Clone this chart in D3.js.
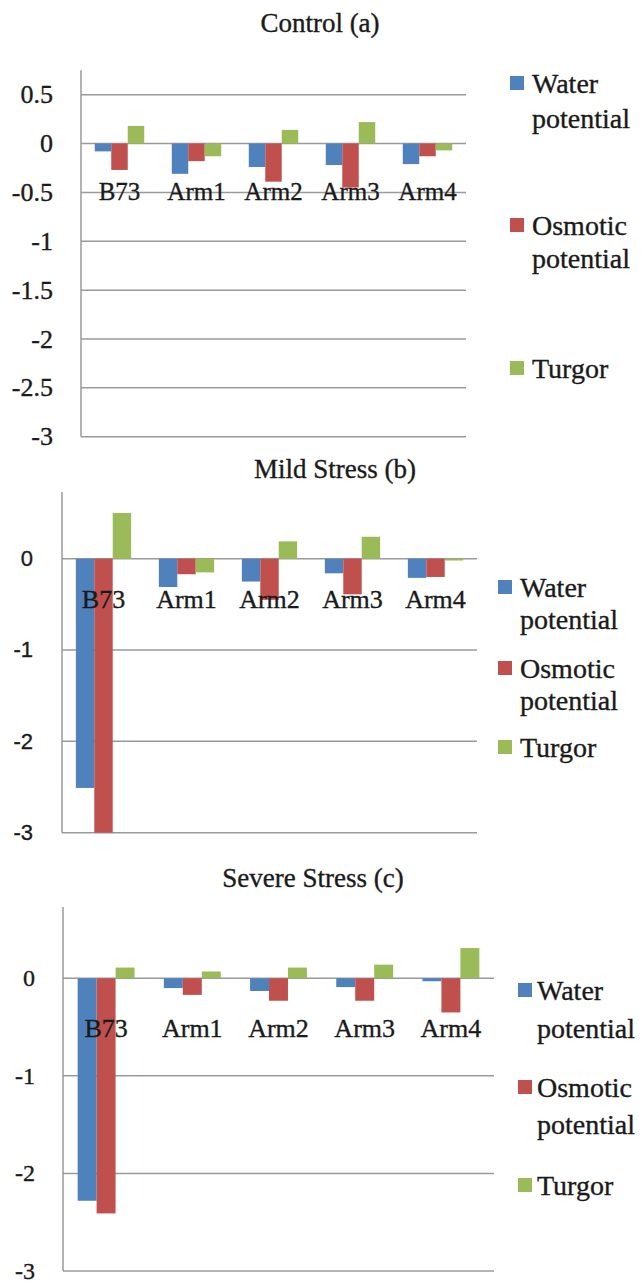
<!DOCTYPE html>
<html><head><meta charset="utf-8">
<script src="https://cdn.jsdelivr.net/npm/d3@7"></script>
<style>body{margin:0;background:#fff}svg{display:block}
.serif{font-family:"Liberation Serif","Times New Roman","DejaVu Serif",serif}
.sans{font-family:"Liberation Sans",Arial,sans-serif}
text{fill:#1a1a1a;stroke:#1a1a1a;stroke-width:0.35px}</style>
</head><body>
<svg id="c" width="643" height="1284"></svg>
<script>
// ---- data ----
const categories = ["B73", "Arm1", "Arm2", "Arm3", "Arm4"];
const seriesNames = ["Water potential", "Osmotic potential", "Turgor"];
const controlWater    = [-0.08, -0.31, -0.24, -0.22, -0.21];
const controlOsmotic  = [-0.27, -0.18, -0.39, -0.45, -0.13];
const controlTurgor   = [0.18, -0.13, 0.14, 0.22, -0.07];
const mildWater       = [-2.51, -0.31, -0.25, -0.16, -0.21];
const mildOsmotic     = [-3.0, -0.17, -0.45, -0.39, -0.20];
const mildTurgor      = [0.50, -0.15, 0.19, 0.24, -0.02];
const severeWater     = [-2.28, -0.10, -0.13, -0.09, -0.03];
const severeOsmotic   = [-2.41, -0.17, -0.23, -0.23, -0.35];
const severeTurgor    = [0.11, 0.07, 0.11, 0.14, 0.31];
const ticksA = [0.5, 0, -0.5, -1, -1.5, -2, -2.5, -3];
const tickLabelsA = ["0.5", "0", "-0.5", "-1", "-1.5", "-2", "-2.5", "-3"];
const ticksBC = [0, -1, -2, -3];
const tickLabelsBC = ["0", "-1", "-2", "-3"];
const titles = ["Control (a)", "Mild Stress (b)", "Severe Stress (c)"];

const colors = ["#4F81BD", "#C0504D", "#9BBB59"];

const panels = [
  { title: titles[0], series: [controlWater, controlOsmotic, controlTurgor],
    ticks: ticksA, tickLabels: tickLabelsA, dom: [-3, 0.5], rng: [436.7, 94.7], axisTop: 0.75,
    x0: 81, x1: 466, barFrac: 0.214, tickFont: "serif", tickSize: 26, tickX: 53,
    catSize: 25, catY: 200, titleX: 320, titleY: 32, titleSize: 27,
    leg: { sqX: 510, txtX: 532, size: 28, lines: [[93, 128], [235, 268], [378]] } },
  { title: titles[1], series: [mildWater, mildOsmotic, mildTurgor],
    ticks: ticksBC, tickLabels: tickLabelsBC, dom: [-3, 0], rng: [832.7, 558.7], axisTop: 0.73,
    x0: 62, x1: 477, barFrac: 0.222, tickFont: "sans", tickSize: 22, tickX: 33,
    catSize: 26, catY: 608, titleX: 335, titleY: 478, titleSize: 27,
    leg: { sqX: 498, txtX: 520, size: 28, lines: [[597, 629], [678, 710], [757]] } },
  { title: titles[2], series: [severeWater, severeOsmotic, severeTurgor],
    ticks: ticksBC, tickLabels: tickLabelsBC, dom: [-3, 0], rng: [1271, 978.3], axisTop: 0.73,
    x0: 63, x1: 494, barFrac: 0.22, tickFont: "serif", tickSize: 24, tickX: 35,
    catSize: 26, catY: 1037, titleX: 313, titleY: 887, titleSize: 27,
    leg: { sqX: 518, txtX: 537, size: 28, lines: [[1000, 1038], [1097, 1134], [1195]] } }
];

const svg = d3.select("#c");
const legendLines = [["Water", "potential"], ["Osmotic", "potential"], ["Turgor"]];

panels.forEach(p => {
  const g = svg.append("g");
  const y = d3.scaleLinear().domain(p.dom).range(p.rng);
  const x = d3.scaleBand().domain(categories).range([p.x0, p.x1]).paddingInner(0).paddingOuter(0);
  const bw = x.step() * p.barFrac;

  g.append("text").attr("class", "serif").attr("x", p.titleX).attr("y", p.titleY).attr("text-anchor", "middle")
    .style("font-size", p.titleSize + "px").text(p.title);

  g.selectAll(".grid").data(p.ticks).enter().append("line")
    .attr("x1", p.x0).attr("x2", p.x1).attr("y1", d => y(d)).attr("y2", d => y(d))
    .attr("stroke", "#9a9a9a").attr("stroke-width", 1.5);
  g.append("line").attr("x1", p.x0).attr("x2", p.x0).attr("y1", y(p.axisTop)).attr("y2", y(p.dom[0]))
    .attr("stroke", "#9a9a9a").attr("stroke-width", 1.5);
  g.selectAll(".tl").data(p.ticks).enter().append("text").attr("class", p.tickFont)
    .attr("x", p.tickX).attr("y", d => y(d)).attr("dy", "0.33em").attr("text-anchor", "end")
    .style("font-size", p.tickSize + "px")
    .text((d, i) => p.tickLabels[i]);

  p.series.forEach((vals, si) => {
    g.selectAll(".b" + si).data(categories).enter().append("rect")
      .attr("x", c => x(c) + x.bandwidth() / 2 - 1.5 * bw + si * bw)
      .attr("width", bw)
      .attr("y", (c, i) => y(Math.max(0, vals[i])))
      .attr("height", (c, i) => Math.abs(y(vals[i]) - y(0)))
      .attr("fill", colors[si]);
  });

  g.selectAll(".cl").data(categories).enter().append("text").attr("class", "serif")
    .attr("x", c => x(c) + x.bandwidth() / 2).attr("y", p.catY).attr("text-anchor", "middle")
    .style("font-size", p.catSize + "px").text(c => c);

  seriesNames.forEach((s, si) => {
    const ys = p.leg.lines[si];
    g.append("rect").attr("x", p.leg.sqX).attr("y", ys[0] - 17).attr("width", 14).attr("height", 14)
      .attr("fill", colors[si]);
    legendLines[si].forEach((t, li) => {
      g.append("text").attr("class", "serif").attr("x", p.leg.txtX).attr("y", ys[li])
        .style("font-size", p.leg.size + "px").text(t);
    });
  });
});
</script>
</body></html>
